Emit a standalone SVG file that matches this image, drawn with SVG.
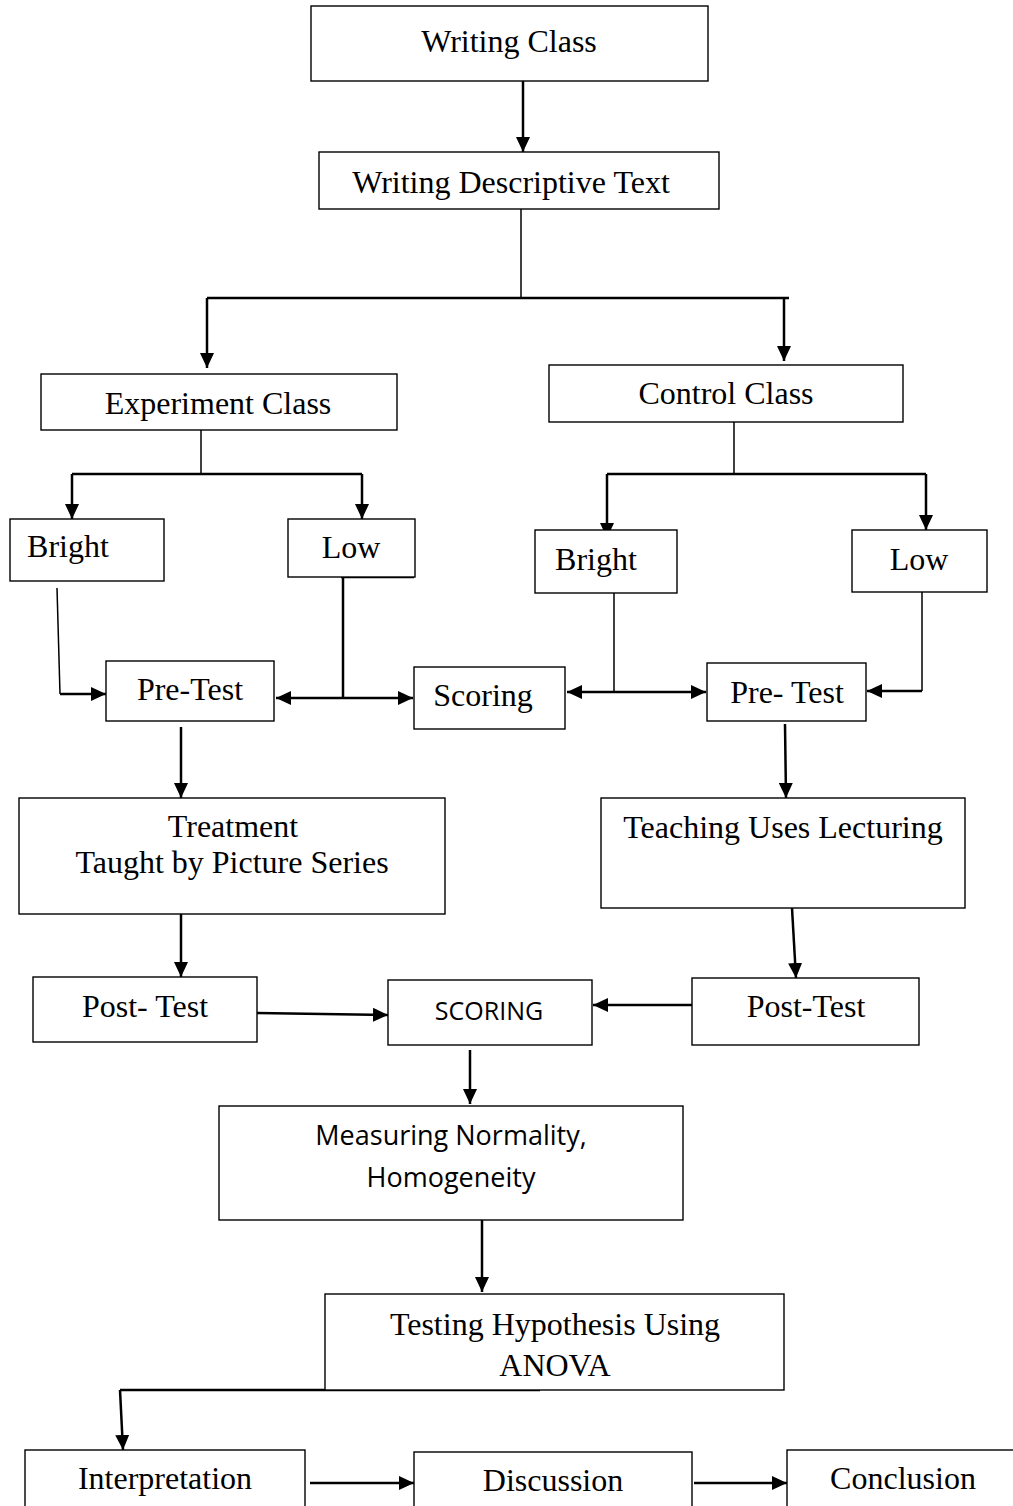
<svg xmlns="http://www.w3.org/2000/svg" width="1013" height="1506" viewBox="0 0 1013 1506">
<style>
.box{fill:#fff;stroke:#000;stroke-width:1.4}
.t{font-family:"Liberation Serif","Times New Roman",serif;font-size:32px;fill:#000;text-anchor:middle}
.s{font-family:"Open Sans","Liberation Sans",sans-serif;font-size:27px;fill:#000;text-anchor:middle}
.c{fill:none;stroke:#000;stroke-width:2.5}
.c1{fill:none;stroke:#000;stroke-width:1.5}
.a{marker-end:url(#ah)}
.d{marker-start:url(#ah);marker-end:url(#ah)}
</style>
<defs>
<marker id="ah" markerUnits="userSpaceOnUse" markerWidth="16" markerHeight="14" refX="15" refY="7" orient="auto-start-reverse">
<path d="M0,0 L15,7 L0,14 z" fill="#000"/>
</marker>
</defs>
<rect width="1013" height="1506" fill="#fff"/>
<g id="connectors">
<path class="c a" d="M523,81 V152"/>
<path class="c1" d="M521,209 V297"/>
<path class="c" d="M207,298 H789"/>
<path class="c a" d="M207,298 V368"/>
<path class="c a" d="M784,297 V361"/>
<path class="c1" d="M201,430 V474"/>
<path class="c" d="M72,474 H362"/>
<path class="c a" d="M72,474 V519"/>
<path class="c a" d="M362,474 V519"/>
<path class="c1" d="M734,422 V474"/>
<path class="c" d="M607,474 H926"/>
<path class="c a" d="M607,474 V538"/>
<path class="c a" d="M926,474 V530"/>
<path class="c1" d="M57,588 L60,694"/>
<path class="c a" d="M60,694 H106"/>
<path class="c" d="M341,577 H414"/>
<path class="c" d="M343,577 V698"/>
<path class="c d" d="M276,698 H413"/>
<path class="c1" d="M614,593 V692"/>
<path class="c d" d="M567,692 H706"/>
<path class="c1" d="M922,592 V691"/>
<path class="c a" d="M922,691 H867"/>
<path class="c a" d="M181,727 V798"/>
<path class="c a" d="M785,724 L786,798"/>
<path class="c a" d="M181,914 V977"/>
<path class="c a" d="M792,908 L796,978"/>
<path class="c a" d="M257,1013 L388,1015"/>
<path class="c a" d="M692,1005 H593"/>
<path class="c a" d="M470,1050 V1104"/>
<path class="c a" d="M482,1220 V1292"/>
<path class="c" d="M540,1390 H120"/>
<path class="c a" d="M120,1390 L123,1450"/>
<path class="c a" d="M310,1483 H414"/>
<path class="c a" d="M694,1483 H787"/>
</g>
<g id="writing-class"><rect class="box" x="311" y="6" width="397" height="75"/><text class="t" x="509" y="52">Writing Class</text></g>
<g id="writing-descriptive"><rect class="box" x="319" y="152" width="400" height="57"/><text class="t" x="511" y="193">Writing Descriptive Text</text></g>
<g id="experiment-class"><rect class="box" x="41" y="374" width="356" height="56"/><text class="t" x="218" y="414">Experiment Class</text></g>
<g id="control-class"><rect class="box" x="549" y="365" width="354" height="57"/><text class="t" x="726" y="404">Control Class</text></g>
<g id="exp-bright"><rect class="box" x="10" y="519" width="154" height="62"/><text class="t" x="68" y="557">Bright</text></g>
<g id="exp-low"><rect class="box" x="288" y="519" width="127" height="58"/><text class="t" x="351" y="558">Low</text></g>
<g id="ctl-bright"><rect class="box" x="535" y="530" width="142" height="63"/><text class="t" x="596" y="570">Bright</text></g>
<g id="ctl-low"><rect class="box" x="852" y="530" width="135" height="62"/><text class="t" x="919" y="570">Low</text></g>
<g id="exp-pretest"><rect class="box" x="106" y="661" width="168" height="60"/><text class="t" x="190" y="700">Pre-Test</text></g>
<g id="scoring"><rect class="box" x="414" y="667" width="151" height="62"/><text class="t" x="483" y="706">Scoring</text></g>
<g id="ctl-pretest"><rect class="box" x="707" y="663" width="159" height="58"/><text class="t" x="787" y="703">Pre- Test</text></g>
<g id="treatment"><rect class="box" x="19" y="798" width="426" height="116"/><text class="t" x="233" y="837">Treatment</text><text class="t" x="232" y="873">Taught by Picture Series</text></g>
<g id="lecturing"><rect class="box" x="601" y="798" width="364" height="110"/><text class="t" x="783" y="838">Teaching Uses Lecturing</text></g>
<g id="exp-posttest"><rect class="box" x="33" y="977" width="224" height="65"/><text class="t" x="145" y="1017">Post- Test</text></g>
<g id="scoring2"><rect class="box" x="388" y="980" width="204" height="65"/><text class="s" x="489" y="1020" style="font-size:25px">SCORING</text></g>
<g id="ctl-posttest"><rect class="box" x="692" y="978" width="227" height="67"/><text class="t" x="806" y="1017">Post-Test</text></g>
<g id="measuring"><rect class="box" x="219" y="1106" width="464" height="114"/><text class="s" x="451" y="1145">Measuring Normality,</text><text class="s" x="451" y="1187">Homogeneity</text></g>
<g id="testing"><rect class="box" x="325" y="1294" width="459" height="96"/><text class="t" x="555" y="1335">Testing Hypothesis Using</text><text class="t" x="555" y="1376">ANOVA</text></g>
<g id="interpretation"><rect class="box" x="25" y="1450" width="280" height="70"/><text class="t" x="165" y="1489">Interpretation</text></g>
<g id="discussion"><rect class="box" x="414" y="1452" width="278" height="70"/><text class="t" x="553" y="1491">Discussion</text></g>
<g id="conclusion"><rect class="box" x="787" y="1450" width="240" height="70"/><text class="t" x="903" y="1489">Conclusion</text></g>
</svg>
